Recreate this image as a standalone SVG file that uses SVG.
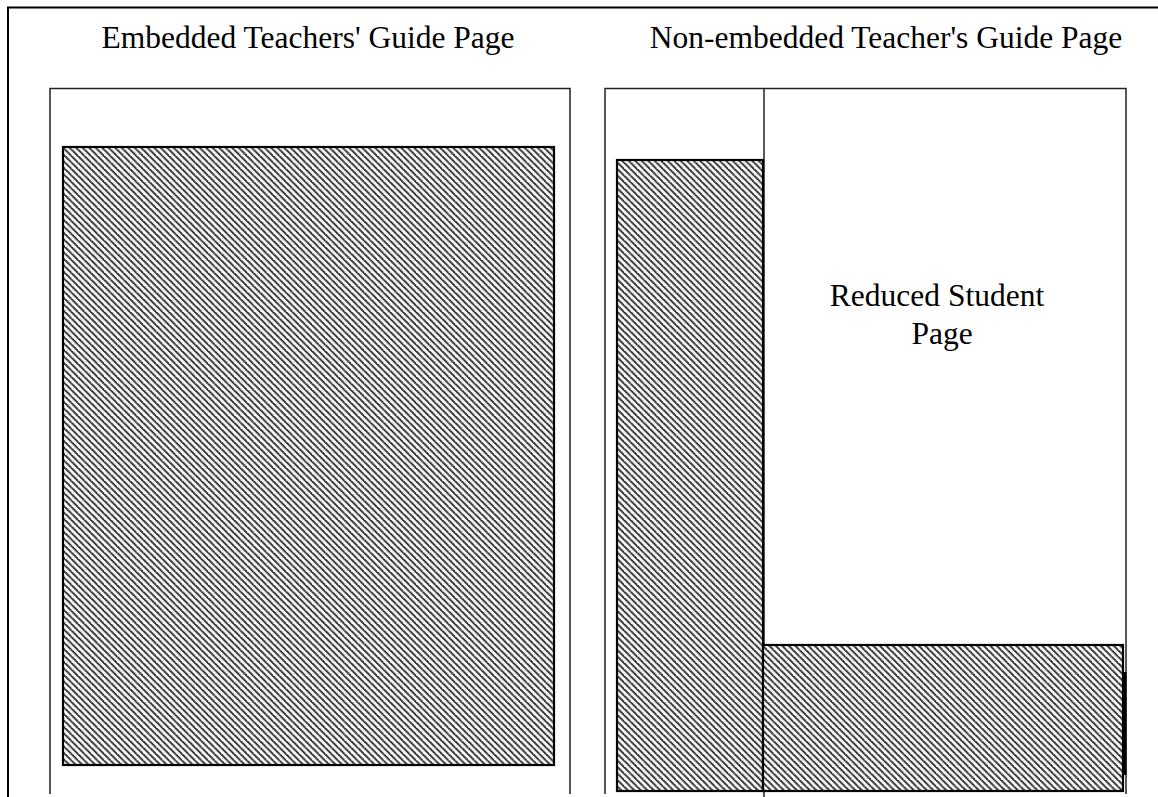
<svg xmlns="http://www.w3.org/2000/svg" width="1158" height="797" viewBox="0 0 1158 797">
  <style>
    .title { font-family: "Liberation Serif", "Times New Roman", serif; font-size: 31.5px; fill: #000; text-anchor: middle; }
    .frame { fill: none; stroke: #000; stroke-width: 2; }
    .page { fill: none; stroke: #222; stroke-width: 1.5; }
    .hatched { fill: url(#diag); stroke: #000; stroke-width: 2.2; }
  </style>
  <defs>
    <!-- backslash hatch used for the teacher text areas -->
    <pattern id="diag" patternUnits="userSpaceOnUse" width="6.5" height="6.5">
      <rect width="6.5" height="6.5" fill="#fff"/>
      <path d="M0,0 L6.5,6.5 M-3.25,3.25 L0,6.5 M3.25,-3.25 L9.75,3.25" stroke="#333" stroke-width="2"/>
    </pattern>
  </defs>

  <!-- outer frame -->
  <g id="frame">
    <path class="frame" d="M8,797 L8,7.5 L1158,7.5"/>
  </g>

  <!-- left: embedded layout -->
  <g id="embedded-page">
    <text class="title" x="308" y="48">Embedded Teachers' Guide Page</text>
    <path class="page" d="M50,794 L50,88.5 L570,88.5 L570,794"/>
    <rect class="hatched" x="63" y="147" width="491" height="618"/>
  </g>

  <!-- right: non-embedded layout -->
  <g id="non-embedded-page">
    <text class="title" x="886" y="48">Non-embedded Teacher's Guide Page</text>
    <path class="page" d="M605,794 L605,88.5 L1126,88.5 L1126,794"/>
    <line class="page" x1="764" y1="88.5" x2="764" y2="797"/>
    <rect class="hatched" x="617" y="160" width="146" height="631"/>
    <rect class="hatched" x="763" y="645" width="360" height="146"/>
    <line x1="1125" y1="672" x2="1125" y2="775" stroke="#000" stroke-width="3"/>
  </g>

  <g id="student-page">
    <text class="title" x="937" y="306">Reduced Student</text>
    <text class="title" x="942" y="344">Page</text>
  </g>

  <g id="connectors"></g>
</svg>
